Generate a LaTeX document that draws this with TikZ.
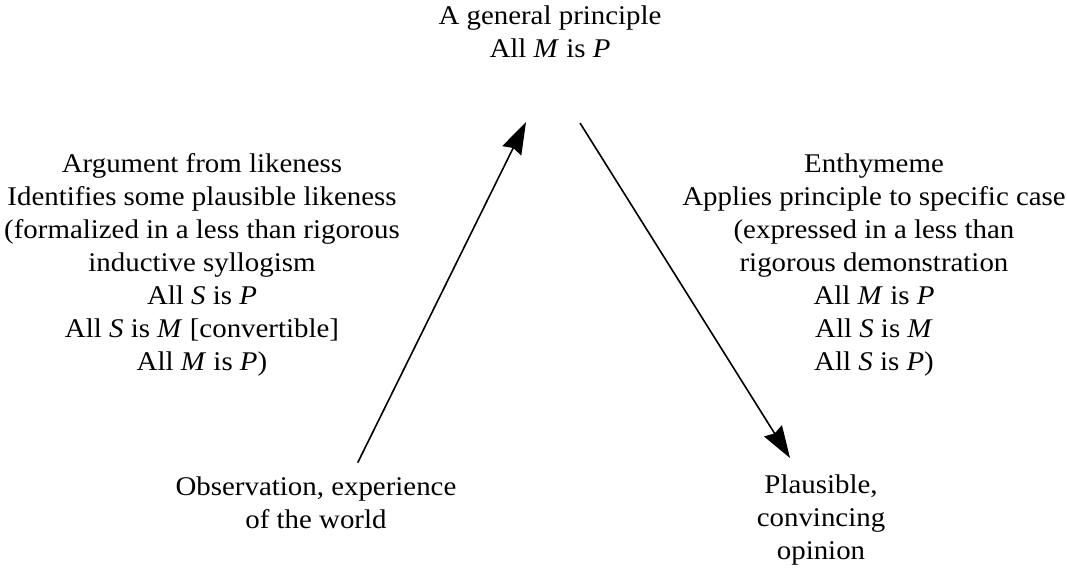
\documentclass[tikz,border=0pt]{standalone}
\usepackage{fontspec}
\setmainfont{Liberation Serif}[FakeStretch=1.07]
\usetikzlibrary{arrows.meta}
\begin{document}
\begin{tikzpicture}[x=1pt,y=-1pt,
  lbl/.style={align=center,inner sep=0pt,anchor=base,font=\fontsize{27}{33}\selectfont},
  arr/.style={line width=1.6pt,-{Stealth[length=32pt,width=21pt,inset=3pt]}}]
\useasboundingbox (0,0) rectangle (1067,567);
\node[lbl] (top) at (550,58) {A general principle\\All \textit{M} is \textit{P}};
\node[lbl] (left) at (202,370) {Argument from likeness\\Identifies some plausible likeness\\(formalized in a less than rigorous\\inductive syllogism\\All \textit{S} is \textit{P}\\All \textit{S} is \textit{M} [convertible]\\All \textit{M} is \textit{P})};
\node[lbl] (right) at (874,370) {Enthymeme\\Applies principle to specific case\\(expressed in a less than\\rigorous demonstration\\All \textit{M} is \textit{P}\\All \textit{S} is \textit{M}\\All \textit{S} is \textit{P})};
\node[lbl] (obs) at (316,528) {Observation, experience\\of the world};
\node[lbl] (opin) at (821,559) {Plausible,\\convincing\\opinion};
\coordinate (a1s) at (357.7,462.7);
\coordinate (a1e) at (526,122);
\coordinate (a2s) at (580,123);
\coordinate (a2e) at (790,458);
\draw[arr] (a1s) -- (a1e);
\draw[arr] (a2s) -- (a2e);
\end{tikzpicture}
\end{document}
